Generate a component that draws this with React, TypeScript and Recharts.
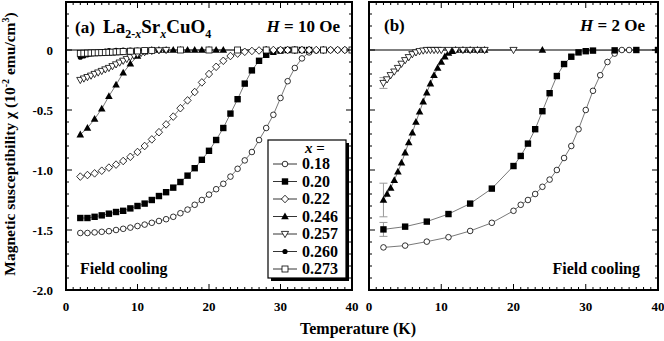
import React from 'react';
import { LineChart, Line, XAxis, YAxis, ReferenceLine, ErrorBar } from 'recharts';

type Pt = [number, number];

// panel (a): H = 10 Oe  — [T (K), chi (10^-2 emu/cm^3)]
const a018: Pt[] = [[2,-1.525],[3,-1.525],[4,-1.52],[5,-1.515],[6,-1.51],[7,-1.5],[8,-1.49],[9,-1.48],[10,-1.467],[11,-1.455],[12,-1.44],[13,-1.425],[14,-1.41],[15,-1.39],[16,-1.36],[17,-1.33],[18,-1.29],[19,-1.25],[20,-1.205],[21,-1.16],[22,-1.115],[23,-1.055],[24,-0.99],[25,-0.92],[26,-0.85],[27,-0.75],[28,-0.65],[29,-0.54],[30,-0.4],[31,-0.26],[32,-0.15],[33,-0.07],[34,-0.02],[35,-0.005],[36,0],[37,0],[38,0],[39,0],[40,0]];
const a020: Pt[] = [[2,-1.4],[3,-1.4],[4,-1.39],[5,-1.378],[6,-1.364],[7,-1.35],[8,-1.34],[9,-1.32],[10,-1.3],[11,-1.28],[12,-1.25],[13,-1.217],[14,-1.185],[15,-1.147],[16,-1.1],[17,-1.047],[18,-0.985],[19,-0.915],[20,-0.84],[21,-0.75],[22,-0.65],[23,-0.53],[24,-0.41],[25,-0.28],[26,-0.17],[27,-0.09],[28,-0.04],[29,-0.015],[30,-0.005],[31,0],[32,0],[33,0],[34,0]];
const a022: Pt[] = [[2,-1.055],[3,-1.042],[4,-1.028],[5,-1.006],[6,-0.98],[7,-0.955],[8,-0.925],[9,-0.89],[10,-0.85],[11,-0.8],[12,-0.745],[13,-0.685],[14,-0.62],[15,-0.555],[16,-0.485],[17,-0.42],[18,-0.35],[19,-0.27],[20,-0.2],[21,-0.14],[22,-0.09],[23,-0.05],[24,-0.03],[25,-0.015],[26,-0.008],[27,-0.004],[28,0],[29,0],[30,0],[31,0],[32,0],[33,0],[34,0],[35,0],[36,0],[37,0],[38,0],[39,0],[40,0]];
const a0246: Pt[] = [[2,-0.705],[3,-0.65],[4,-0.575],[5,-0.49],[6,-0.385],[7,-0.29],[8,-0.19],[9,-0.115],[10,-0.05],[11,-0.015],[12,0],[13,0],[14,0],[15,0],[16,0],[17,0],[18,0],[19,0],[20,0],[21,0],[22,0]];
const a0257: Pt[] = [[2,-0.25],[2.5,-0.238],[3,-0.226],[3.5,-0.214],[4,-0.2],[4.5,-0.188],[5,-0.175],[5.5,-0.162],[6,-0.15],[6.5,-0.135],[7,-0.12],[7.5,-0.105],[8,-0.09],[8.5,-0.075],[9,-0.06],[9.5,-0.047],[10,-0.035],[10.5,-0.025],[11,-0.018],[12,-0.008],[13,-0.003],[14,0]];
const a0260: Pt[] = [[2,-0.06],[2.5,-0.05],[3,-0.04],[3.5,-0.032],[4,-0.025],[4.5,-0.018],[5,-0.013],[5.5,-0.009],[6,-0.006],[7,-0.003],[8,0],[9,0],[10,0]];
const a0273: Pt[] = [[2,-0.028],[2.5,-0.027],[3,-0.026],[3.5,-0.025],[4,-0.024],[4.5,-0.023],[5,-0.022],[5.5,-0.02],[6,-0.019],[6.5,-0.018],[7,-0.016],[7.5,-0.015],[8,-0.013],[9,-0.01],[10,-0.008],[11,-0.005],[12,-0.003],[16,0],[20,0],[24,0],[28,0],[32,0],[36,0],[40,0]];

// panel (b): H = 2 Oe
const b018: Pt[] = [[2,-1.645],[5,-1.63],[8,-1.597],[11,-1.56],[14,-1.508],[17,-1.44],[20,-1.34],[21,-1.29],[22,-1.25],[23,-1.2],[24,-1.14],[25,-1.08],[26,-1.0],[27,-0.9],[28,-0.8],[29,-0.66],[30,-0.5],[31,-0.34],[32,-0.21],[33,-0.1],[34,-0.03],[35,0],[36,0]];
const b020: Pt[] = [[2,-1.495],[5,-1.472],[8,-1.43],[11,-1.367],[14,-1.28],[17,-1.155],[20,-0.967],[21,-0.883],[22,-0.78],[23,-0.66],[24,-0.51],[25,-0.36],[26,-0.217],[27,-0.117],[28,-0.056],[29,-0.02],[30,-0.01],[31,-0.005],[34,-0.003],[37,0],[40,0]];
const b0246: Pt[] = [[2,-1.25],[2.5,-1.2],[3,-1.15],[3.5,-1.085],[4,-1.015],[4.5,-0.94],[5,-0.855],[5.5,-0.77],[6,-0.69],[6.5,-0.6],[7,-0.515],[7.5,-0.43],[8,-0.355],[8.5,-0.28],[9,-0.21],[9.5,-0.15],[10,-0.1],[10.5,-0.055],[11,-0.025],[11.5,-0.01],[12,0],[13,0],[14,0],[15,0],[16,0],[24,0]];
const b0257: Pt[] = [[2,-0.275],[2.5,-0.245],[3,-0.21],[3.5,-0.18],[4,-0.15],[4.5,-0.115],[5,-0.085],[5.5,-0.06],[6,-0.035],[6.5,-0.02],[7,-0.01],[7.5,-0.005],[8,0],[8.5,0],[9,0],[9.5,0],[10,0],[11,0],[12,0],[13,0],[14,0],[15,0],[16,0],[20,0]];
// error bars on the first (T = 2 K) point of panel (b)
const bErr = { x020: 0.058, x0246: 0.14, x0257: 0.045 };

const legendLabels = ['0.18', '0.20', '0.22', '0.246', '0.257', '0.260', '0.273'];
const yLabels = [0, -0.5, -1.0, -1.5, -2.0];
const xTicks = Array.from({ length: 41 }, (_, i) => i);
const yTicks = Array.from({ length: 25 }, (_, i) => Math.round((-2 + i * 0.1) * 10) / 10);
const X_DOMAIN: [number, number] = [0, 40];
const Y_DOMAIN: [number, number] = [-2, 0.4];

const FONT = '"Liberation Serif", "Times New Roman", serif';
const LINE = '#555';

// plot geometry (set by the chart margins / axis sizes below)
const PLOT_TOP = 2;
const PLOT_BOTTOM = 290;
const PANELS = [
  { left: 66, right: 352 },
  { left: 369, right: 658 },
];

type Shape = 'circleOpen' | 'square' | 'diamond' | 'triUp' | 'triDown' | 'dot' | 'squareOpen';
const shapes: Shape[] = ['circleOpen', 'square', 'diamond', 'triUp', 'triDown', 'dot', 'squareOpen'];

const Marker = ({ shape, cx, cy }: { shape: Shape; cx: number; cy: number }) => {
  const s = 0.8;
  switch (shape) {
    case 'circleOpen':
      return <circle cx={cx} cy={cy} r={2.8} fill="#fff" stroke="#000" strokeWidth={s} />;
    case 'square':
      return <rect x={cx - 3.2} y={cy - 3.2} width={6.4} height={6.4} fill="#000" />;
    case 'diamond':
      return <polygon points={`${cx},${cy - 3.8} ${cx + 3.6},${cy} ${cx},${cy + 3.8} ${cx - 3.6},${cy}`} fill="#fff" stroke="#000" strokeWidth={s} />;
    case 'triUp':
      return <polygon points={`${cx},${cy - 4} ${cx + 3.8},${cy + 2.8} ${cx - 3.8},${cy + 2.8}`} fill="#000" />;
    case 'triDown':
      return <polygon points={`${cx},${cy + 3.6} ${cx + 3.6},${cy - 2.6} ${cx - 3.6},${cy - 2.6}`} fill="#fff" stroke="#000" strokeWidth={s} />;
    case 'dot':
      return <circle cx={cx} cy={cy} r={2.6} fill="#000" />;
    default:
      return <rect x={cx - 3} y={cy - 3} width={6} height={6} fill="#fff" stroke="#000" strokeWidth={s} />;
  }
};

const rows = (pts: Pt[], err?: number) =>
  pts.map(([T, chi], i) => ({ T, chi, err: i === 0 && err ? err : undefined }));

const series = (pts: Pt[], shape: Shape, key: string, err?: number) => (
  <Line
    key={key}
    data={rows(pts, err)}
    dataKey="chi"
    type="linear"
    stroke={LINE}
    strokeWidth={0.8}
    isAnimationActive={false}
    dot={(p: any) => (
      <g key={`${key}-${p.index}`}>
        <Marker shape={shape} cx={p.cx} cy={p.cy} />
      </g>
    )}
  >
    {err ? <ErrorBar dataKey="err" width={4} stroke="#999" strokeWidth={1} /> : null}
  </Line>
);

const isMajorX = (v: number) => v % 10 === 0;
const isMajorY = (v: number) => Math.abs(v * 2 - Math.round(v * 2)) < 1e-6;
const tickText = { fontFamily: FONT, fontWeight: 700, fontSize: 13, fill: '#000' };

const BottomTick = ({ x, y, payload }: any) => {
  const v = payload.value;
  return isMajorX(v) ? (
    <text x={x} y={y + 21} textAnchor="middle" style={tickText}>{v}</text>
  ) : <g />;
};
const LeftTick = ({ x, y, payload, labels }: any) => {
  const v = payload.value;
  const show = labels && isMajorY(v) && yLabels.some((l) => Math.abs(l - v) < 1e-6);
  return show ? (
    <text x={x - 13} y={y + 4.5} textAnchor="end" style={tickText}>
      {v === 0 ? '0' : v.toFixed(1)}
    </text>
  ) : <g />;
};

const frame = { stroke: '#000', strokeWidth: 1.6 };

const Panel = ({ width, left, yLabelWidth, right, labels, children }: any) => (
  <div style={{ position: 'absolute', left, top: 0 }}>
    <LineChart width={width} height={341} margin={{ top: 1, right, bottom: 21, left: labels ? 0 : 8 }}>
      <XAxis xAxisId={0} type="number" dataKey="T" domain={X_DOMAIN} ticks={xTicks} interval={0}
        allowDataOverflow height={30} tickLine={false} tickSize={0} tickMargin={0} axisLine={frame}
        tick={<BottomTick />} />
      <XAxis xAxisId="top" orientation="top" type="number" dataKey="T" domain={X_DOMAIN} ticks={xTicks}
        interval={0} allowDataOverflow height={1} tickLine={false} tick={false} axisLine={frame} />
      <YAxis yAxisId={0} type="number" domain={Y_DOMAIN} ticks={yTicks} interval={0} allowDataOverflow
        width={yLabelWidth} tickLine={false} tickSize={0} tickMargin={0} axisLine={frame}
        tick={<LeftTick labels={labels} />} />
      <YAxis yAxisId="right" orientation="right" type="number" domain={Y_DOMAIN} ticks={yTicks}
        interval={0} allowDataOverflow width={1} tickLine={false} tick={false} axisLine={frame} />
      <ReferenceLine y={0} stroke="#000" strokeWidth={1.2} />
      {children}
    </LineChart>
  </div>
);

// frame + inward tick marks as filled bars, on the same linear mapping as the axes
const Frame = () => {
  const yPix = (v: number) =>
    PLOT_TOP + ((Y_DOMAIN[1] - v) / (Y_DOMAIN[1] - Y_DOMAIN[0])) * (PLOT_BOTTOM - PLOT_TOP);
  const b = 2; // border thickness
  return (
    <svg width={664} height={341}
      style={{ position: 'absolute', left: 0, top: 0, pointerEvents: 'none', zIndex: 5, overflow: 'visible' }}>
      {PANELS.map((p, k) => {
        const xPix = (t: number) => p.left + ((t - X_DOMAIN[0]) / (X_DOMAIN[1] - X_DOMAIN[0])) * (p.right - p.left);
        const w = p.right - p.left;
        const h = PLOT_BOTTOM - PLOT_TOP;
        return (
          <g key={k} fill="#000">
            <rect x={p.left - b / 2} y={PLOT_TOP - b / 2} width={w + b} height={b} />
            <rect x={p.left - b / 2} y={PLOT_BOTTOM - b / 2} width={w + b} height={b} />
            <rect x={p.left - b / 2} y={PLOT_TOP - b / 2} width={b} height={h + b} />
            <rect x={p.right - b / 2} y={PLOT_TOP - b / 2} width={b} height={h + b} />
            {xTicks.map((t) => {
              const len = isMajorX(t) ? 6 : 3;
              const x = xPix(t) - 0.5;
              return (
                <g key={`x${t}`}>
                  <rect x={x} y={PLOT_BOTTOM - len} width={1} height={len} />
                  <rect x={x} y={PLOT_TOP} width={1} height={len} />
                </g>
              );
            })}
            {yTicks.map((v) => {
              const len = isMajorY(v) ? 6 : 3;
              const y = yPix(v) - 0.5;
              return (
                <g key={`y${v}`}>
                  <rect x={p.left} y={y} width={len} height={1} />
                  <rect x={p.right - len} y={y} width={len} height={1} />
                </g>
              );
            })}
          </g>
        );
      })}
    </svg>
  );
};

// small svg placed at page coordinates (x0, y0); children use page coordinates
const Box = ({ x0, y0, w, h, children }: any) => (
  <svg width={w} height={h} viewBox={`${x0} ${y0} ${w} ${h}`}
    style={{ position: 'absolute', left: x0, top: y0, overflow: 'hidden', zIndex: 6 }}>
    {children}
  </svg>
);

const bold = { fontFamily: FONT, fontWeight: 700, fill: '#000' } as const;

const LegendBox = () => (
  <Box x0={266} y0={138} w={84} h={146}>
    <rect x={271} y={143} width={78} height={138} fill="#000" />
    <rect x={268} y={140} width={78} height={138} fill="#fff" stroke="#000" strokeWidth={1.2} />
    <text x={315} y={153} textAnchor="middle" style={{ ...bold, fontSize: 15 }}>
      <tspan fontStyle="italic">x</tspan> =
    </text>
    {legendLabels.map((lab, i) => {
      const base = 169 + i * 17.5;
      const cy = base - 5;
      return (
        <g key={lab}>
          <line x1={273} x2={297} y1={cy} y2={cy} stroke="#000" strokeWidth={0.8} />
          <Marker shape={shapes[i]} cx={285} cy={cy} />
          <text x={302} y={base} style={{ ...bold, fontSize: 16 }}>{lab}</text>
        </g>
      );
    })}
  </Box>
);

export default function App() {
  return (
    <div style={{ position: 'absolute', left: 0, top: 0, width: 664, height: 341, background: '#fff' }}>
      <Panel width={360} left={0} yLabelWidth={66} right={7} labels>
        {series(a018, 'circleOpen', 'a018')}
        {series(a020, 'square', 'a020')}
        {series(a022, 'diamond', 'a022')}
        {series(a0246, 'triUp', 'a0246')}
        {series(a0257, 'triDown', 'a0257')}
        {series(a0260, 'dot', 'a0260')}
        {series(a0273, 'squareOpen', 'a0273')}
      </Panel>
      <Panel width={304} left={360} yLabelWidth={1} right={5} labels={false}>
        {series(b018, 'circleOpen', 'b018')}
        {series(b020, 'square', 'b020', bErr.x020)}
        {series(b0246, 'triUp', 'b0246', bErr.x0246)}
        {series(b0257, 'triDown', 'b0257', bErr.x0257)}
      </Panel>
      <Frame />

      <Box x0={70} y0={12} w={280} h={30}>
        <text x={75} y={33} style={{ ...bold, fontSize: 17 }}>(a)</text>
        <text x={103} y={33} style={{ ...bold, fontSize: 19 }}>
          La<tspan dy={5} fontSize={12}>2-<tspan fontStyle="italic">x</tspan></tspan>
          <tspan dy={-5}>Sr</tspan><tspan dy={5} fontSize={12} fontStyle="italic">x</tspan>
          <tspan dy={-5}>CuO</tspan><tspan dy={5} fontSize={12}>4</tspan>
        </text>
        <text x={340} y={32} textAnchor="end" style={{ ...bold, fontSize: 17 }}>
          <tspan fontStyle="italic">H</tspan> = 10 Oe
        </text>
      </Box>
      <Box x0={76} y0={258} w={110} h={24}>
        <text x={80} y={274} style={{ ...bold, fontSize: 16 }}>Field cooling</text>
      </Box>

      <Box x0={378} y0={12} w={272} h={28}>
        <text x={384} y={31} style={{ ...bold, fontSize: 17 }}>(b)</text>
        <text x={645} y={31} textAnchor="end" style={{ ...bold, fontSize: 17 }}>
          <tspan fontStyle="italic">H</tspan> = 2 Oe
        </text>
      </Box>
      <Box x0={536} y0={258} w={112} h={24}>
        <text x={640} y={274} textAnchor="end" style={{ ...bold, fontSize: 16 }}>Field cooling</text>
      </Box>

      <Box x0={270} y0={316} w={180} h={25}>
        <text x={358} y={334} textAnchor="middle" style={{ ...bold, fontSize: 16 }}>Temperature (K)</text>
      </Box>
      <Box x0={0} y0={0} w={22} h={300}>
        <text transform="translate(15,144) rotate(-90)" textAnchor="middle" style={{ ...bold, fontSize: 15.5 }}>
          Magnetic susceptibility χ (10<tspan dy={-6} fontSize={10}>-2</tspan>
          <tspan dy={6}> emu/cm</tspan><tspan dy={-6} fontSize={10}>3</tspan><tspan dy={6}>)</tspan>
        </text>
      </Box>
      <LegendBox />
    </div>
  );
}
